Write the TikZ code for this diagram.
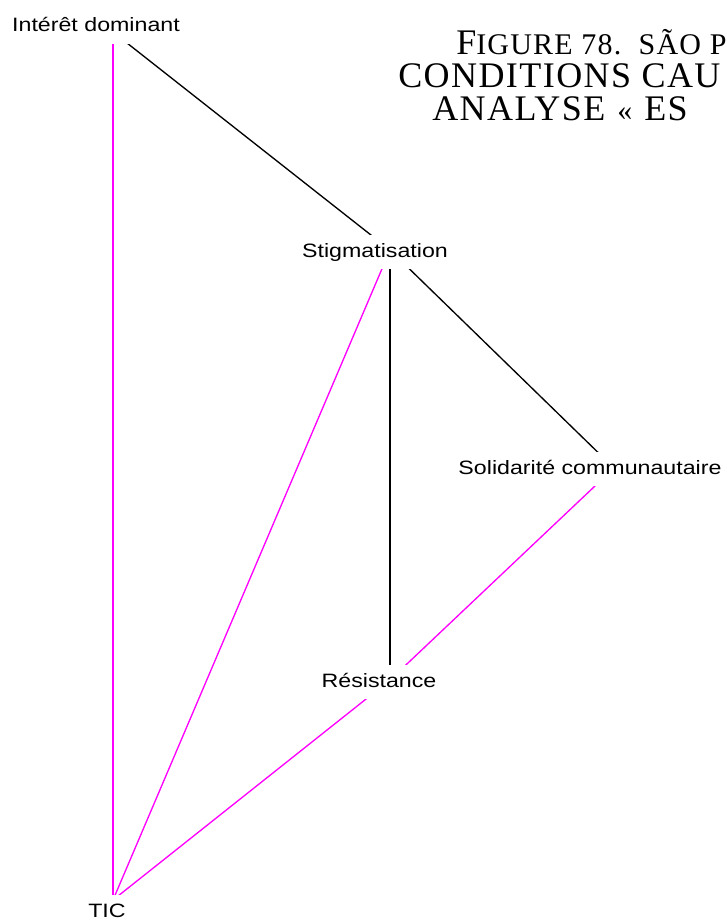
\documentclass[tikz,border=0pt]{standalone}
\usepackage{fontspec}
\setmainfont{Liberation Serif}
\newfontfamily\labelfont[FakeStretch=1.2]{Liberation Sans}
\newfontfamily\titlefont[LetterSpace=4]{Liberation Serif}
\definecolor{tiepink}{RGB}{255,0,255}
\tikzset{
  lbl/.style={font=\labelfont\fontsize{14.5}{17}\selectfont, fill=white,
    inner xsep=1pt, inner ysep=6pt, text height=10.5pt, text depth=3pt},
  blackline/.style={black, line width=1pt},
  pinkline/.style={tiepink, line width=1pt},
  titleline/.style={font=\titlefont\fontsize{27}{32}\selectfont, anchor=base west, inner sep=0pt}
}
\newcommand{\smallcap}[1]{{\fontsize{22.5}{27}\selectfont #1}}
\begin{document}
\begin{tikzpicture}[x=0.75pt, y=-0.75pt]
  \useasboundingbox (0,0) rectangle (726,920);
  % points of the graph
  \coordinate (intd) at (113,32);
  \coordinate (stig) at (390,250);
  \coordinate (soli) at (614,468);
  \coordinate (resi) at (390,680);
  \coordinate (tic)  at (113,900);
  % black ties
  \draw[blackline] (intd) -- (stig);
  \draw[blackline] (stig) -- (soli);
  \draw[blackline] (stig) -- (resi);
  % pink ties
  \draw[pinkline] (tic) -- (intd);
  \draw[pinkline] (tic) -- (stig);
  \draw[pinkline] (soli) -- (resi);
  \draw[pinkline] (resi) -- (tic);
  % labels
  \node[lbl] (intdl) at (96,27)   {Intérêt dominant};
  \node[lbl] (stigl) at (375,252) {Stigmatisation};
  \node[lbl] (solil) at (590,469) {Solidarité communautaire};
  \node[lbl] (resil) at (379,682) {Résistance};
  \node[lbl] (ticl)  at (107,912) {TIC};
  % title, cut at the right edge
  \node[titleline] (title1) at (456,55) {F\smallcap{IGURE 78.\ \ SÃO P}};
  \node[titleline] (title2) at (398,88) {CONDITIONS CAU};
  \node[titleline] (title3) at (432,121) {ANALYSE\hspace{9pt}\smallcap{«}\hspace{9pt}ES};
\end{tikzpicture}
\end{document}
